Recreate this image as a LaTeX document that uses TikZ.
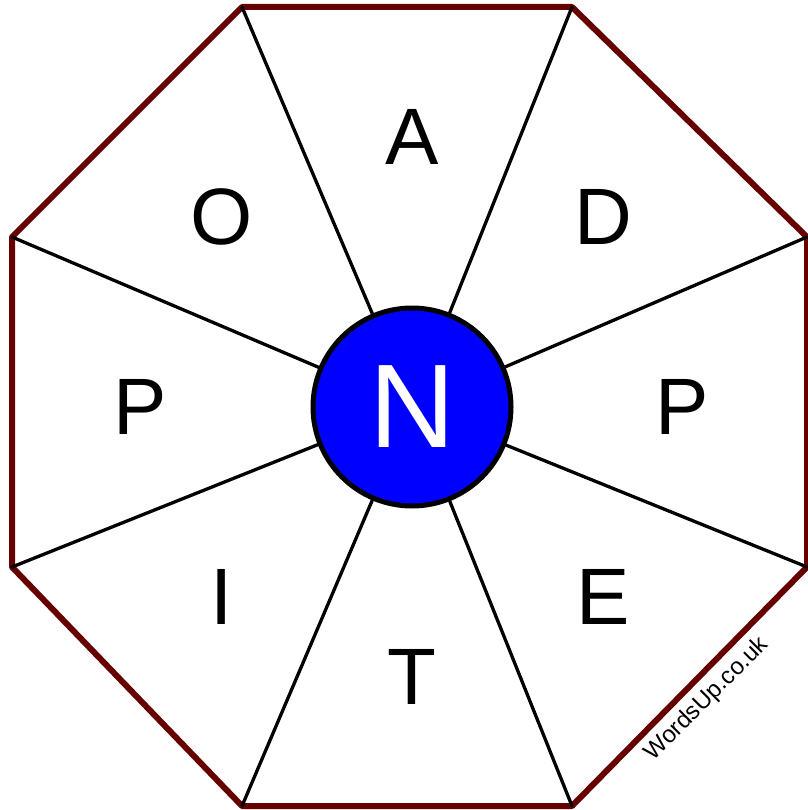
\documentclass[tikz,border=0pt]{standalone}
\usepackage{fontspec}
\setmainfont{Liberation Sans}
\definecolor{rim}{RGB}{102,0,0}
\tikzset{
  letter/.style={font=\fontsize{80}{96}\selectfont},
  hubdisc/.style={circle, draw=black, line width=5pt, fill=blue, minimum size=198pt, inner sep=0pt, text=white, font=\fontsize{119}{140}\selectfont},
  spoke/.style={line width=3.3pt}
}
\begin{document}
\begin{tikzpicture}[x=1pt, y=-1pt, line join=round, line cap=round]
				\useasboundingbox (0,0) rectangle (807,810);
				% corners of the octagon
				\coordinate (c1) at (242,7);
				\coordinate (c2) at (572,7);
				\coordinate (c3) at (807,237);
				\coordinate (c4) at (807,567);
				\coordinate (c5) at (572,806);
				\coordinate (c6) at (242,806);
				\coordinate (c7) at (12,567);
				\coordinate (c8) at (12,237);
				\draw[rim, line width=6pt] (c1) -- (c2) -- (c3) -- (c4) -- (c5) -- (c6) -- (c7) -- (c8) -- cycle;
				\node[hubdisc] (hub) at (412,407) {N};
				\draw[spoke] (hub) -- (c1);
				\draw[spoke] (hub) -- (c2);
				\draw[spoke] (hub) -- (c3);
				\draw[spoke] (hub) -- (c4);
				\draw[spoke] (hub) -- (c5);
				\draw[spoke] (hub) -- (c6);
				\draw[spoke] (hub) -- (c7);
				\draw[spoke] (hub) -- (c8);
				% letters round the hub
				\node[letter] (la) at (412,137) {A};
				\node[letter] (ld) at (603,217) {D};
				\node[letter] (lp) at (682,407) {P};
				\node[letter] (le) at (603,597) {E};
				\node[letter] (lt) at (412,677) {T};
				\node[letter] (li) at (222,597) {I};
				\node[letter] (lq) at (140,407) {P};
				\node[letter] (lo) at (222,217) {O};
				\node[rotate=45, font=\fontsize{24}{28}\selectfont] (site) at (707,699) {WordsUp.co.uk};
			\end{tikzpicture}
\end{document}
